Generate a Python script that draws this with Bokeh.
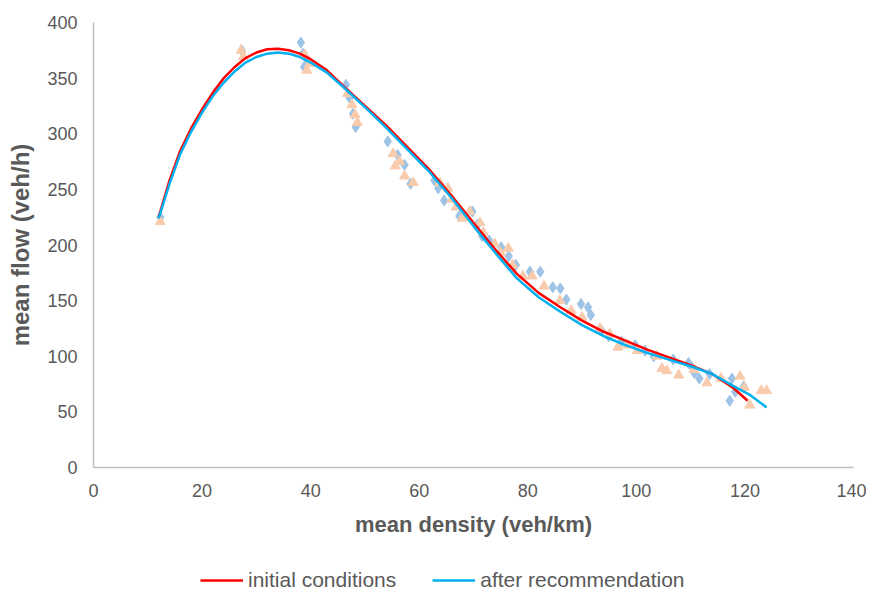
from bokeh.plotting import figure
from bokeh.layouts import column
from bokeh.models import Range1d, FixedTicker, Legend, LegendItem
from bokeh.embed import file_html
from bokeh.resources import INLINE

# scatter data: initial conditions (blue diamonds)
blue_density = [12.3, 27.3, 38.2, 38.6, 38.8, 39.4, 46.5, 47.2, 47.8, 48.3, 54.2, 56.0, 57.3, 58.4,
                62.8, 63.5, 64.6, 67.4, 69.8, 70.7, 71.6, 72.9, 75.1, 76.5, 77.8, 80.4, 82.3, 84.6,
                86.0, 87.1, 89.8, 91.1, 91.6, 93.6, 94.9, 97.2, 99.8, 101.6, 103.2, 106.8, 109.6,
                110.3, 110.7, 111.6, 113.5, 117.6, 118.2, 117.2, 119.8]
blue_flow = [225, 375, 382, 372, 360, 366, 344, 332, 318, 306, 293, 281, 272, 255,
             258, 251, 240, 226, 230, 218, 208, 204, 198, 190, 182, 176, 176, 162,
             161, 151, 147, 144, 137, 123, 118, 113, 110, 105, 100, 97, 94,
             90, 85, 80, 84, 80, 68, 60, 73]

# scatter data: after recommendation (orange triangles)
orange_density = [12.3, 27.2, 27.6, 38.9, 39.3, 39.8, 46.8, 47.6, 48.2, 48.6, 55.2, 55.6, 56.4, 57.3,
                  58.9, 63.8, 65.3, 66.0, 66.8, 67.9, 69.3, 71.2, 71.8, 73.9, 75.0, 76.4, 77.2, 79.1,
                  80.8, 83.0, 85.9, 88.0, 90.0, 93.3, 95.1, 96.6, 98.4, 100.2, 103.8, 104.7, 105.6,
                  107.8, 110.6, 113.0, 115.6, 119.1, 119.9, 120.9, 123.0, 124.0]
orange_flow = [221, 375, 369, 371, 357, 363, 336, 326, 317, 310, 282, 271, 275, 262,
               256, 256, 251, 241, 234, 224, 230, 220, 211, 201, 193, 197, 182, 172,
               172, 163, 150, 141, 135, 125, 120, 108, 110, 105, 100, 89, 87,
               83, 88, 76, 80, 82, 72, 56, 69, 69]

# trend curves
red_density = [12, 14, 16, 18, 20, 22, 24, 26, 28, 30, 32, 34, 36, 38, 40, 43, 46, 50, 54, 58, 62,
               66, 70, 74, 78, 82, 86, 90, 94, 98, 102, 106, 110, 114, 118, 120.5]
red_flow = [225, 258, 285, 305, 322, 337, 350, 360, 368, 373, 376, 376.5, 375, 372, 367, 357, 343,
            325, 307, 287, 267, 244, 220, 196, 174, 157, 144, 132, 122, 114, 106, 99, 92, 84, 71, 60]

cyan_density = [12, 14, 16, 18, 20, 22, 24, 26, 28, 30, 32, 34, 36, 38, 40, 43, 46, 50, 54, 58, 62,
                66, 70, 74, 78, 82, 86, 90, 94, 98, 102, 106, 110, 114, 118, 121, 124]
cyan_flow = [224, 255, 282, 302, 319, 334, 346, 356, 364, 369, 372, 373, 372, 369, 364, 355, 342,
             324, 305, 285, 265, 242, 217, 193, 170, 153, 140, 128, 118, 110, 103, 97, 91, 84, 73, 65, 54]

x_ticks = [0, 20, 40, 60, 80, 100, 120, 140]
y_ticks = [0, 50, 100, 150, 200, 250, 300, 350, 400]
series_names = ["initial conditions", "after recommendation"]

FONT = "Liberation Sans"
GRAY = "#595959"
RED = "#FF0000"
CYAN = "#00B0F0"

p = figure(width=866, height=540, output_backend="svg", toolbar_location=None,
           x_range=Range1d(0, 140), y_range=Range1d(0, 400),
           min_border_left=93, min_border_right=13, min_border_top=22, min_border_bottom=73)
p.outline_line_color = None
p.xgrid.visible = False
p.ygrid.visible = False

for ax in (p.xaxis[0], p.yaxis[0]):
    ax.axis_line_color = "#BFBFBF"
    ax.axis_line_width = 1.5
    ax.major_tick_line_color = None
    ax.minor_tick_line_color = None
    ax.major_tick_out = 0
    ax.major_tick_in = 0
    ax.minor_tick_out = 0
    ax.major_label_text_font = FONT
    ax.major_label_text_font_size = "18px"
    ax.major_label_text_color = GRAY
    ax.axis_label_text_font = FONT
    ax.axis_label_text_font_style = "bold"
    ax.axis_label_text_color = GRAY

p.xaxis.axis_label_text_font_size = "22px"
p.yaxis.axis_label_text_font_size = "24px"
p.xaxis.ticker = FixedTicker(ticks=x_ticks)
p.yaxis.ticker = FixedTicker(ticks=y_ticks)
p.xaxis.axis_label = "mean density (veh/km)"
p.yaxis.axis_label = "mean flow (veh/h)"
p.xaxis.major_label_standoff = 16
p.yaxis.major_label_standoff = 16
p.xaxis.axis_label_standoff = 12
p.yaxis.axis_label_standoff = 10

p.scatter(blue_density, blue_flow, marker="diamond", size=11,
          fill_color="#9DC3E6", line_color="#9DC3E6")
p.scatter(orange_density, orange_flow, marker="triangle", size=10,
          fill_color="#F8CBAD", line_color="#F8CBAD")

p.line(red_density, red_flow, line_color=RED, line_width=2.5)
p.line(cyan_density, cyan_flow, line_color=CYAN, line_width=2.5)

# legend strip below the chart (the series lines fall far outside its range, only the legend shows)
lf = figure(width=866, height=54, output_backend="svg", toolbar_location=None,
            x_range=Range1d(0, 866), y_range=Range1d(0, 10),
            x_axis_location=None, y_axis_location=None,
            min_border_left=0, min_border_right=0, min_border_top=0, min_border_bottom=0)
lf.outline_line_color = None
lf.xgrid.visible = False
lf.ygrid.visible = False
lr_red = lf.line(red_density, red_flow, line_color=RED, line_width=2.5)
lr_cyan = lf.line(cyan_density, cyan_flow, line_color=CYAN, line_width=2.5)

legend = Legend(items=[LegendItem(label=series_names[0], renderers=[lr_red]),
                       LegendItem(label=series_names[1], renderers=[lr_cyan])],
                orientation="horizontal", location=(107, 2),
                padding=0, margin=0, spacing=36, glyph_width=43, glyph_height=18,
                label_standoff=5, border_line_color=None, background_fill_alpha=0,
                label_text_font=FONT, label_text_font_size="21px", label_text_color=GRAY)
lf.add_layout(legend, "center")

layout = column(p, lf, spacing=0)
open("out.html", "w").write(file_html(layout, INLINE))
